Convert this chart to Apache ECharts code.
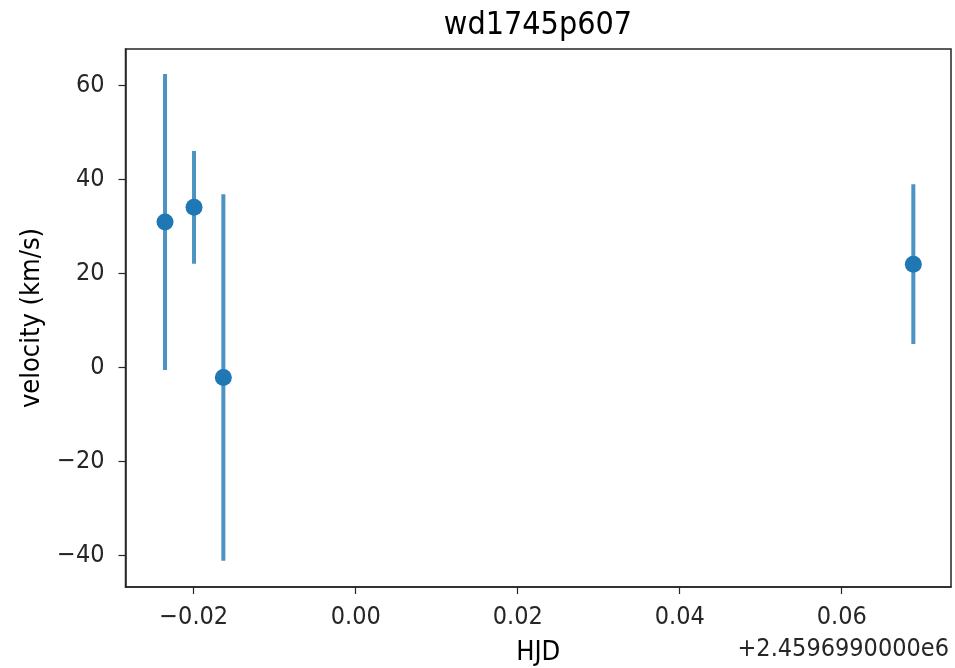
<!DOCTYPE html>
<html>
<head>
<meta charset="utf-8">
<script src="https://cdn.jsdelivr.net/npm/echarts@6/dist/echarts.min.js"></script>
<style>html,body{margin:0;padding:0;background:#fff}#c{width:955px;height:668px}</style>
</head>
<body>
<div id="c"></div>
<script>
const hjd = [-0.02354, -0.01996, -0.01634, 0.06884];
const velocity = [31.0, 34.1, -2.1, 22.0];
const velocityErr = [31.5, 12.0, 39.0, 17.0];
const xTicks = [-0.02, 0.00, 0.02, 0.04, 0.06];
const yTicks = [-40, -20, 0, 20, 40, 60];
const title = 'wd1745p607';
const xName = 'HJD';
const yName = 'velocity (km/s)';
const offsetText = '+2.4596990000e6';

const FONT = '"DejaVu Sans Condensed", "DejaVu Sans", sans-serif';
const AXC = '#262626';
const fmtMinus = (s) => s.replace('-', '\u2212');

const chart = echarts.init(document.getElementById('c'), null, {renderer: 'canvas'});
const errData = hjd.map((x, i) => [x, velocity[i] - velocityErr[i], velocity[i] + velocityErr[i]]);
const ptData = hjd.map((x, i) => [x, velocity[i]]);

chart.setOption({
  animation: false,
  backgroundColor: '#fff',
  grid: {left: 125.5, right: 4, top: 49, bottom: 81, containLabel: false, outerBoundsMode: 'none',
    show: true, borderColor: AXC, borderWidth: 1.5, backgroundColor: 'transparent'},
  xAxis: {
    type: 'value', min: -0.02842, max: 0.07349,
    name: xName, nameLocation: 'middle', nameGap: 52,
    nameTextStyle: {fontFamily: FONT, fontSize: 27, color: '#000'},
    axisLine: {show: true, onZero: false, lineStyle: {color: AXC, width: 1.5}},
    axisTick: {show: true, inside: false, length: 7, customValues: xTicks, lineStyle: {color: AXC, width: 1.2}},
    axisLabel: {customValues: xTicks, margin: 18, fontFamily: FONT, fontSize: 25, color: '#262626',
      formatter: (v) => fmtMinus(v.toFixed(2))},
    splitLine: {show: false}
  },
  yAxis: {
    type: 'value', min: -46.7, max: 67.8,
    name: yName, nameLocation: 'middle', nameGap: 80, nameRotate: 90,
    nameTextStyle: {fontFamily: FONT, fontSize: 27, color: '#000'},
    axisLine: {show: true, onZero: false, lineStyle: {color: AXC, width: 1.5}},
    axisTick: {show: true, inside: false, length: 7, customValues: yTicks, lineStyle: {color: AXC, width: 1.2}},
    axisLabel: {customValues: yTicks, margin: 21, fontFamily: FONT, fontSize: 25, color: '#262626',
      formatter: (v) => fmtMinus(String(Math.round(v)))},
    splitLine: {show: false}
  },
  graphic: [
    {
      type: 'text', x: 538, y: 26,
      style: {text: title, fontFamily: FONT, fontSize: 32, fill: '#000', align: 'center', verticalAlign: 'middle'}
    },
    {
      type: 'text', x: 949, y: 649,
      style: {text: offsetText, fontFamily: FONT, fontSize: 25, fill: '#262626', align: 'right', verticalAlign: 'middle'}
    }
  ],
  series: [
    {
      type: 'custom',
      data: errData,
      encode: {x: 0, y: [1, 2]},
      renderItem: (params, api) => {
        const lo = api.coord([api.value(0), api.value(1)]);
        const hi = api.coord([api.value(0), api.value(2)]);
        return {
          type: 'line',
          shape: {x1: lo[0], y1: lo[1], x2: hi[0], y2: hi[1]},
          style: {stroke: '#1f77b4', opacity: 0.8, lineWidth: 4}
        };
      },
      z: 2
    },
    {
      type: 'scatter',
      data: ptData,
      symbol: 'circle',
      symbolSize: 17,
      itemStyle: {color: '#1f77b4', opacity: 1},
      z: 3
    }
  ]
});
</script>
</body>
</html>
